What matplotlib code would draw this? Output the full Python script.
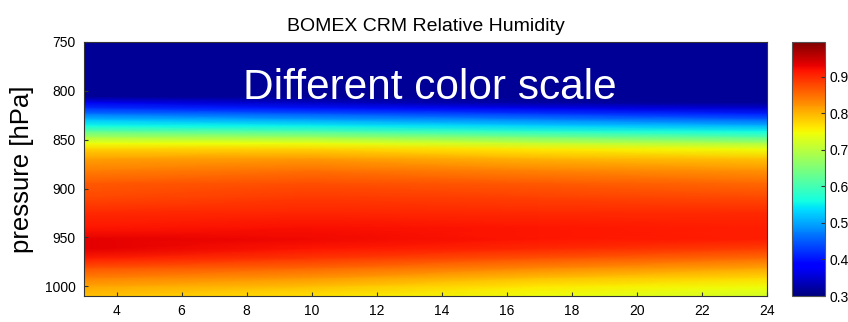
import numpy as np
import matplotlib
matplotlib.use("Agg")
import matplotlib.pyplot as plt

plt.rcParams['font.family'] = ['Liberation Sans', 'DejaVu Sans']

# model hours at which profiles are stored
hours = [3, 10, 17, 24]

# pressure levels (hPa)
pressure = [750, 806, 812, 818, 824, 830, 836, 842, 848, 854, 860, 870,
            882, 895, 910, 925, 940, 952, 962, 972, 982, 992, 1001, 1010]

# relative humidity profiles, one list per hour
rh_h3 = [.315, .315, .37, .42, .47, .52, .56, .63, .69, .745, .78, .815,
         .84, .865, .88, .90, .915, .935, .935, .91, .87, .835, .81, .79]
rh_h10 = [.315, .315, .34, .40, .45, .50, .55, .61, .68, .74, .78, .82,
          .85, .875, .89, .905, .92, .925, .915, .89, .855, .82, .79, .765]
rh_h17 = [.315, .315, .32, .37, .43, .48, .53, .58, .65, .71, .76, .80,
          .835, .865, .885, .90, .915, .915, .90, .87, .83, .79, .76, .74]
rh_h24 = [.315, .315, .315, .35, .41, .46, .51, .56, .62, .69, .745, .79,
          .825, .855, .88, .90, .91, .91, .885, .85, .81, .77, .745, .72]

cbar_ticks = [0.3, 0.4, 0.5, 0.6, 0.7, 0.8, 0.9]
x_ticks = [4, 6, 8, 10, 12, 14, 16, 18, 20, 22, 24]
y_ticks = [750, 800, 850, 900, 950, 1000]

rh = np.array([rh_h3, rh_h10, rh_h17, rh_h24]).T

fig = plt.figure(figsize=(8.48, 3.22), dpi=100)
ax = fig.add_axes([84/848, 26/322, 683/848, 254/322])
mesh = ax.pcolormesh(hours, pressure, rh, shading='gouraud', cmap='jet',
                     vmin=0.3, vmax=0.995)
ax.set_xlim(3, 24)
ax.set_ylim(1010, 750)
ax.set_xticks(x_ticks)
ax.set_yticks(y_ticks)
ax.tick_params(direction='in', length=3, labelsize=10, pad=6, color='#333333')
for s in ax.spines.values():
    s.set_color('#333333')
    s.set_linewidth(0.8)
ax.set_title('BOMEX CRM Relative Humidity', fontsize=14, pad=8)
ax.set_ylabel('pressure [hPa]', fontsize=18.5, labelpad=8)
ax.text(0.507, 0.82, 'Different color scale', transform=ax.transAxes,
        ha='center', va='center', color='white', fontsize=30.5)

cax = fig.add_axes([792/848, 26/322, 33/848, 254/322])
cb = fig.colorbar(mesh, cax=cax, ticks=cbar_ticks)
cb.outline.set_edgecolor('#555555')
cb.outline.set_linewidth(0.8)
cax.tick_params(direction='in', length=3, labelsize=10, color='#333333')

fig.savefig('out.png', dpi=100)
